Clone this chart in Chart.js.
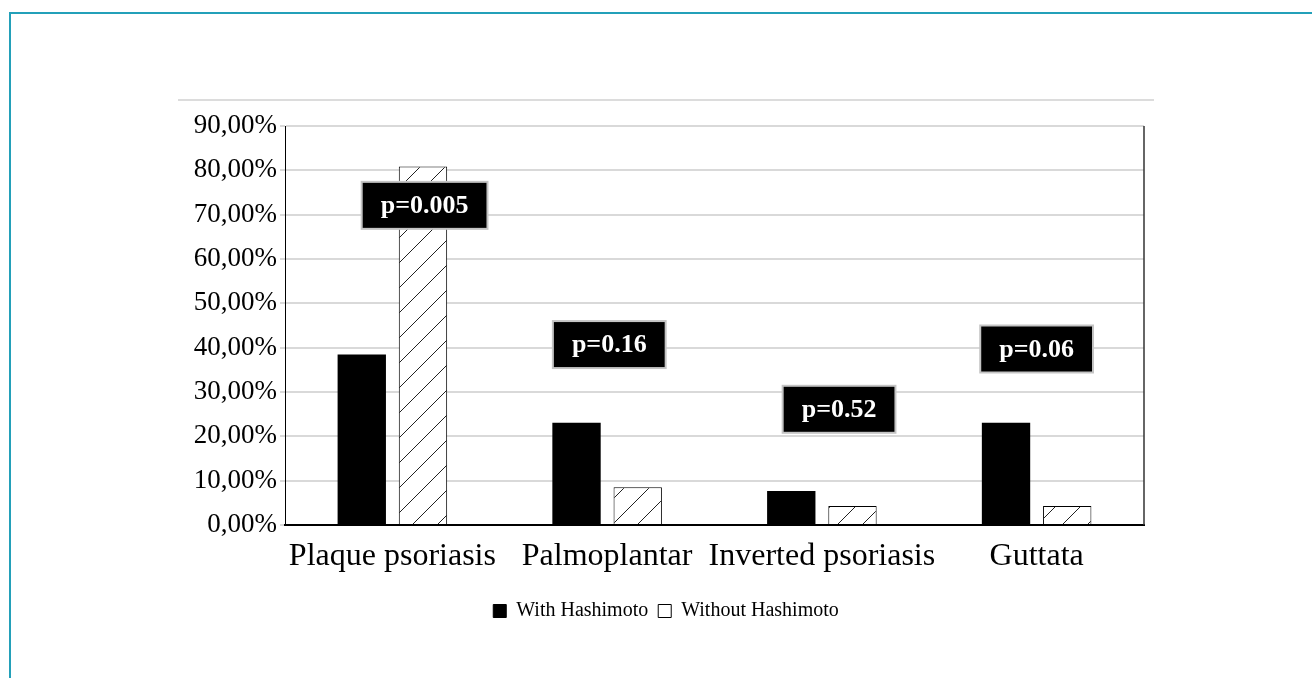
<!DOCTYPE html>
<html>
<head>
<meta charset="utf-8">
<script src="https://cdn.jsdelivr.net/npm/chart.js@4.4.0/dist/chart.umd.min.js"></script>
<style>
  html, body { margin: 0; padding: 0; background: #ffffff; }
  #wrap { position: relative; width: 1312px; height: 678px; overflow: hidden; }
  #frame { position: absolute; left: 9px; top: 12px; width: 1400px; height: 800px;
           border-top: 2px solid #23a0b9; border-left: 2px solid #23a0b9; }
  #topline { position: absolute; left: 178px; top: 99px; width: 976px; height: 0;
             border-top: 2px solid #dcdcdc; }
  canvas { position: absolute; left: 0; top: 0; }
</style>
</head>
<body>
<div id="wrap">
  <div id="frame"></div>
  <div id="topline"></div>
  <canvas id="c" width="1312" height="678"></canvas>
</div>
<script>
const categories = ['Plaque psoriasis', 'Palmoplantar', 'Inverted psoriasis', 'Guttata'];
const seriesNames = ['With Hashimoto', 'Without Hashimoto'];
const withHashimoto = [38.46, 23.08, 7.69, 23.08];
const withoutHashimoto = [80.85, 8.51, 4.26, 4.26];
const yTicks = [0, 10, 20, 30, 40, 50, 60, 70, 80, 90];
const pLabels = ['p=0.005', 'p=0.16', 'p=0.52', 'p=0.06'];
const pX = [0.15, 1.01, 2.08, 3.0];
const pY = [72.1, 40.7, 26.1, 39.7];

const SERIF = '"Liberation Serif", "Times New Roman", serif';

function makeHatch() {
  const t = document.createElement('canvas');
  t.width = 25; t.height = 25;
  const g = t.getContext('2d');
  g.fillStyle = '#ffffff';
  g.fillRect(0, 0, 25, 25);
  g.strokeStyle = '#222222';
  g.lineWidth = 1;
  g.beginPath();
  g.moveTo(-1, 13); g.lineTo(13, -1);
  g.moveTo(-1, 38); g.lineTo(38, -1);
  g.stroke();
  return g.createPattern(t, 'repeat');
}

const ctx = document.getElementById('c').getContext('2d');
const hatch = makeHatch();

const pBoxes = {
  id: 'pBoxes',
  afterDatasetsDraw(chart) {
    const c = chart.ctx, xs = chart.scales.x, ys = chart.scales.y;
    c.save();
    c.font = 'bold 26px ' + SERIF;
    c.textAlign = 'center';
    c.textBaseline = 'middle';
    pLabels.forEach((lab, i) => {
      const cx = xs.getPixelForValue(pX[i]);
      const cy = ys.getPixelForValue(pY[i]);
      const w = c.measureText(lab).width + 38;
      const h = 47;
      c.fillStyle = '#000000';
      c.fillRect(cx - w / 2, cy - h / 2, w, h);
      c.strokeStyle = '#c4c4c4';
      c.lineWidth = 2;
      c.strokeRect(cx - w / 2, cy - h / 2, w, h);
      c.fillStyle = '#ffffff';
      c.fillText(lab, cx, cy + 1);
    });
    c.restore();
  }
};

const frameRight = {
  id: 'frameRight',
  afterDraw(chart) {
    const a = chart.chartArea, c = chart.ctx;
    c.save();
    c.strokeStyle = '#333333';
    c.lineWidth = 1.5;
    c.beginPath();
    c.moveTo(a.right, a.top);
    c.lineTo(a.right, a.bottom);
    c.stroke();
    c.restore();
  }
};

new Chart(ctx, {
  type: 'bar',
  data: {
    labels: categories,
    datasets: [
      { label: seriesNames[0], data: withHashimoto, backgroundColor: '#000000',
        borderColor: '#000000', borderWidth: 0 },
      { label: seriesNames[1], data: withoutHashimoto, backgroundColor: hatch,
        borderColor: '#000000', borderWidth: 1 }
    ]
  },
  options: {
    responsive: false,
    animation: false,
    devicePixelRatio: 1,
    categoryPercentage: 0.57,
    barPercentage: 0.79,
    layout: { padding: { left: 20, right: 0, top: 126, bottom: 47 } },
    plugins: {
      tooltip: { enabled: false },
      legend: {
        position: 'bottom',
        labels: {
          font: { family: SERIF, size: 20 },
          color: '#000000',
          boxWidth: 13,
          boxHeight: 13,
          padding: 10,
          generateLabels(chart) {
            return chart.data.datasets.map((ds, i) => ({
              text: ds.label,
              fillStyle: i === 0 ? '#000000' : '#ffffff',
              strokeStyle: '#000000',
              lineWidth: 1,
              hidden: false,
              datasetIndex: i
            }));
          }
        }
      }
    },
    scales: {
      x: {
        grid: { display: false },
        border: { color: '#000000', width: 2 },
        ticks: { font: { family: SERIF, size: 32 }, color: '#000000', padding: 4,
                 maxRotation: 0, minRotation: 0, autoSkip: false },
        afterFit(s) { s.height = 66; }
      },
      y: {
        min: 0, max: 90,
        afterBuildTicks(s) { s.ticks = yTicks.map(v => ({ value: v })); },
        afterFit(s) { s.width = 265; },
        grid: { color: '#d9d9d9', lineWidth: 2, tickLength: 5, tickColor: '#d9d9d9' },
        border: { color: '#000000', width: 1 },
        ticks: {
          font: { family: SERIF, size: 27 }, color: '#000000', padding: 3,
          callback(v) { return v.toFixed(2).replace('.', ',') + '%'; }
        }
      },
      yR: {
        position: 'right',
        display: true,
        min: 0, max: 90,
        grid: { display: false, drawOnChartArea: false },
        border: { display: false },
        ticks: { display: false },
        afterFit(s) { s.width = 168; }
      }
    }
  },
  plugins: [pBoxes, frameRight]
});
</script>
</body>
</html>
